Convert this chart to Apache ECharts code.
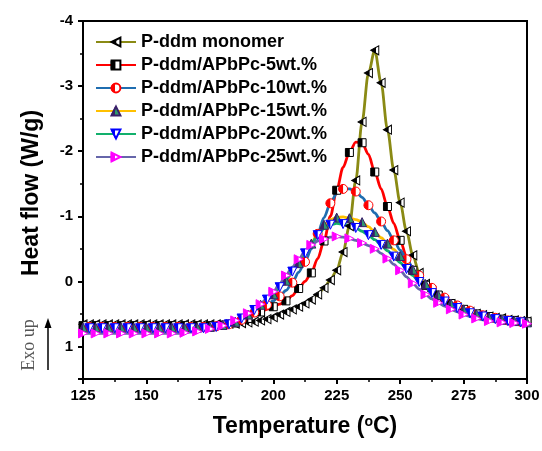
<!DOCTYPE html>
<html><head><meta charset="utf-8">
<script src="https://cdn.jsdelivr.net/npm/echarts@6/dist/echarts.min.js"></script>
<style>html,body{margin:0;padding:0;background:#fff}#c{width:542px;height:451px}</style>
</head><body><div id="c"></div>
<script>
// ---------- data ----------
const temperature = [125,127.5,130,132.5,135,137.5,140,142.5,145,147.5,150,152.5,155,157.5,160,162.5,165,167.5,170,172.5,175,177.5,180,182.5,185,187.5,190,192.5,195,197.5,200,202.5,205,207.5,210,212.5,215,217.5,220,222.5,225,227.5,230,232.5,235,237.5,240,242.5,245,247.5,250,252.5,255,257.5,260,262.5,265,267.5,270,272.5,275,277.5,280,282.5,285,287.5,290,292.5,295,297.5,300];

const seriesNames = ['P-ddm monomer','P-ddm/APbPc-5wt.%','P-ddm/APbPc-10wt.%','P-ddm/APbPc-15wt.%','P-ddm/APbPc-20wt.%','P-ddm/APbPc-25wt.%'];

const monomer = [0.66,0.66,0.66,0.66,0.66,0.66,0.66,0.66,0.66,0.66,0.66,0.66,0.66,0.66,0.66,0.66,0.66,0.66,0.66,0.66,0.66,0.66,0.66,0.65,0.65,0.64,0.63,0.62,0.60,0.58,0.55,0.51,0.47,0.43,0.39,0.34,0.28,0.20,0.10,-0.02,-0.17,-0.45,-0.85,-1.55,-2.45,-3.2,-3.55,-3.05,-2.33,-1.71,-1.21,-0.77,-0.40,-0.13,0.04,0.15,0.23,0.30,0.35,0.40,0.44,0.47,0.50,0.52,0.54,0.56,0.57,0.59,0.60,0.61,0.62];
const wt5 = [0.68,0.68,0.68,0.68,0.68,0.68,0.68,0.68,0.68,0.68,0.68,0.68,0.68,0.68,0.68,0.68,0.68,0.68,0.68,0.68,0.68,0.68,0.67,0.66,0.64,0.61,0.57,0.52,0.47,0.43,0.39,0.35,0.30,0.22,0.11,0.0,-0.13,-0.35,-0.62,-1.0,-1.4,-1.75,-1.98,-2.14,-2.13,-1.95,-1.68,-1.42,-1.15,-0.89,-0.63,-0.38,-0.17,-0.03,0.06,0.14,0.21,0.28,0.34,0.39,0.43,0.47,0.50,0.52,0.54,0.56,0.58,0.59,0.60,0.61,0.62];
const wt10 = [0.70,0.70,0.70,0.70,0.70,0.70,0.70,0.70,0.70,0.70,0.70,0.70,0.70,0.70,0.70,0.70,0.70,0.70,0.70,0.70,0.70,0.69,0.68,0.66,0.63,0.59,0.54,0.48,0.42,0.36,0.30,0.23,0.14,0.02,-0.14,-0.30,-0.50,-0.73,-0.98,-1.2,-1.35,-1.42,-1.42,-1.38,-1.29,-1.17,-1.05,-0.92,-0.78,-0.63,-0.48,-0.34,-0.21,-0.09,0.01,0.10,0.18,0.25,0.31,0.37,0.41,0.45,0.49,0.52,0.54,0.56,0.58,0.60,0.61,0.62,0.63];
const wt15 = [0.71,0.71,0.71,0.71,0.71,0.71,0.71,0.71,0.71,0.71,0.71,0.71,0.71,0.71,0.71,0.71,0.71,0.71,0.71,0.71,0.70,0.69,0.67,0.65,0.62,0.57,0.51,0.44,0.36,0.28,0.20,0.10,-0.01,-0.14,-0.28,-0.43,-0.58,-0.74,-0.87,-0.95,-0.98,-0.99,-0.97,-0.95,-0.91,-0.84,-0.76,-0.67,-0.58,-0.49,-0.39,-0.29,-0.18,-0.07,0.04,0.13,0.21,0.28,0.34,0.39,0.43,0.47,0.50,0.53,0.55,0.57,0.59,0.60,0.61,0.62,0.63];
const wt20 = [0.72,0.72,0.72,0.72,0.72,0.72,0.72,0.72,0.72,0.72,0.72,0.72,0.72,0.72,0.72,0.72,0.72,0.72,0.72,0.72,0.71,0.70,0.68,0.66,0.62,0.57,0.51,0.44,0.36,0.28,0.19,0.09,-0.02,-0.15,-0.29,-0.43,-0.57,-0.71,-0.81,-0.87,-0.89,-0.88,-0.86,-0.82,-0.77,-0.71,-0.64,-0.56,-0.47,-0.38,-0.29,-0.19,-0.09,0.01,0.10,0.18,0.25,0.31,0.36,0.41,0.45,0.49,0.52,0.54,0.56,0.58,0.60,0.61,0.62,0.63,0.63];
const wt25 = [0.80,0.80,0.80,0.80,0.80,0.80,0.80,0.80,0.80,0.80,0.80,0.80,0.80,0.80,0.80,0.80,0.79,0.78,0.77,0.75,0.73,0.71,0.68,0.64,0.60,0.55,0.49,0.42,0.35,0.26,0.16,0.04,-0.09,-0.22,-0.34,-0.46,-0.56,-0.62,-0.65,-0.68,-0.69,-0.68,-0.66,-0.63,-0.59,-0.55,-0.50,-0.43,-0.35,-0.26,-0.17,-0.07,0.03,0.12,0.20,0.27,0.33,0.38,0.43,0.47,0.51,0.54,0.57,0.59,0.61,0.62,0.63,0.64,0.64,0.65,0.65];

const xTicks = [125,150,175,200,225,250,275,300];
const yTicks = [-4,-3,-2,-1,0,1];

// ---------- styles ----------
const values = [monomer, wt5, wt10, wt15, wt20, wt25];
const lineColors = ['#8a8a14','#ff0000','#1f6db0','#ffc000','#12b06c','#6666aa'];
const darkColors = ['#000000','#000000','#ff0000','#3a1f6a','#0000ff','#ff00ff'];
const lightColors = ['#ffffff','#ffffff','#ffffff','#2e9a6e','#ffffff','#ffffff'];
const BB = 'M0,0L0,0M10,10L10,10';
const fullSym = ['path://M0,5L10,0L10,10Z','path://M0,0L10,0L10,10L0,10Z','circle','path://M5,0L10,10L0,10Z','path://M0,0L10,0L5,10Z','path://M0,0L10,5L0,10Z'];
const halfSym = ['path://'+BB+'M0,5L6.5,1.75L6.5,8.25Z','path://'+BB+'M0,0L5.5,0L5.5,10L0,10Z','path://'+BB+'M5,0A5,5 0 0 0 5,10Z','path://'+BB+'M5,0L0,10L5,10Z','path://'+BB+'M0,0L5,0L5,10Z','path://'+BB+'M0,0L5,2.5L5,7.5L0,10Z'];
const symSizes = [[8,9],[8,8],[9,9],[9,9],[9,9],[9,9]];
const symStep = [1,2,2,2,2,2];
const symPhase = [0,0,1,0,1,0];
const FONT = 'Arial, "Liberation Sans", sans-serif';

const series = [];
const halfNames = [];
values.forEach((v, k) => {
  const data = temperature.map((t, i) => [t, v[i]]);
  const sizeFn = (val, p) => (p.dataIndex % symStep[k] === symPhase[k] ? symSizes[k] : 0);
  series.push({
    name: seriesNames[k], type: 'line', data: data, smooth: 0.3, smoothMonotone: 'x',
    symbol: fullSym[k], symbolSize: sizeFn, showSymbol: true,
    lineStyle: {color: lineColors[k], width: 2.8},
    itemStyle: {color: lightColors[k], borderColor: darkColors[k], borderWidth: 1},
    emphasis: {disabled: true}, animation: false
  });
  const hn = seriesNames[k] + '\u200b';
  halfNames.push(hn);
  series.push({
    name: hn, type: 'line', data: data, smooth: 0.3, silent: true,
    symbol: halfSym[k], symbolSize: sizeFn, showSymbol: true,
    lineStyle: {opacity: 0, width: 0},
    itemStyle: {color: darkColors[k], borderWidth: 0},
    emphasis: {disabled: true}, animation: false
  });
});

const legendBase = {
  orient: 'vertical', left: 95, top: 33, padding: 0, itemWidth: 40, itemHeight: 11, itemGap: 5,
  selectedMode: false
};

const chart = echarts.init(document.getElementById('c'), null, {renderer: 'canvas'});
chart.setOption({
  animation: false,
  backgroundColor: '#ffffff',
  grid: {left: 83, right: 15, top: 21, bottom: 72, show: true, borderColor: '#000', borderWidth: 2, containLabel: false, outerBoundsMode: 'none'},
  legend: [
    Object.assign({}, legendBase, {data: seriesNames, textStyle: {fontSize: 18, fontWeight: 'bold', fontFamily: FONT, color: '#000', lineHeight: 18}}),
    Object.assign({}, legendBase, {data: halfNames, textStyle: {fontSize: 18, fontWeight: 'bold', fontFamily: FONT, color: 'rgba(0,0,0,0)', lineHeight: 18}})
  ],
  xAxis: {
    type: 'value', min: xTicks[0], max: xTicks[xTicks.length-1], interval: 25,
    axisLine: {show: true, onZero: false, lineStyle: {color: '#000', width: 2}},
    axisTick: {show: true, inside: false, length: 5, lineStyle: {color: '#000', width: 2}},
    minorTick: {show: true, splitNumber: 2, length: 3, lineStyle: {color: '#000', width: 1.5}},
    splitLine: {show: false}, minorSplitLine: {show: false},
    axisLabel: {color: '#000', fontSize: 15, fontWeight: 'bold', fontFamily: FONT, margin: 9},
    name: 'Temperature ({sup|o}C)', nameLocation: 'middle', nameGap: 36,
    nameTextStyle: {fontSize: 23, fontWeight: 'bold', fontFamily: FONT, color: '#000',
      rich: {sup: {fontSize: 14, fontWeight: 'bold', fontFamily: FONT, color: '#000', verticalAlign: 'top', padding: [0,0,6,0]}}}
  },
  yAxis: {
    type: 'value', inverse: true, min: yTicks[0], max: 1.5, interval: 1,
    axisLine: {show: true, onZero: false, lineStyle: {color: '#000', width: 2}},
    axisTick: {show: true, inside: false, length: 5, lineStyle: {color: '#000', width: 2}},
    minorTick: {show: true, splitNumber: 2, length: 3, lineStyle: {color: '#000', width: 1.5}},
    splitLine: {show: false}, minorSplitLine: {show: false},
    axisLabel: {color: '#000', fontSize: 15, fontWeight: 'bold', fontFamily: FONT, margin: 10,
      formatter: v => (yTicks.indexOf(v) >= 0 ? String(v) : '')},
    name: 'Heat flow (W/g)', nameLocation: 'middle', nameGap: 40, nameRotate: 90,
    nameTextStyle: {fontSize: 23, fontWeight: 'bold', fontFamily: FONT, color: '#000', padding: [0, 0, 0, 14]}
  },
  graphic: [
    {type: 'text', x: 29, y: 345, rotation: Math.PI/2,
      style: {text: 'Exo up', font: '18px "Liberation Serif", "Times New Roman", serif', fill: '#555', align: 'center', verticalAlign: 'middle'}},
    {type: 'line', shape: {x1: 48, y1: 370, x2: 48, y2: 326}, style: {stroke: '#000', lineWidth: 1.5}},
    {type: 'polygon', shape: {points: [[48, 318], [44.5, 328], [51.5, 328]]}, style: {fill: '#000'}}
  ],
  series: series
});
</script></body></html>
